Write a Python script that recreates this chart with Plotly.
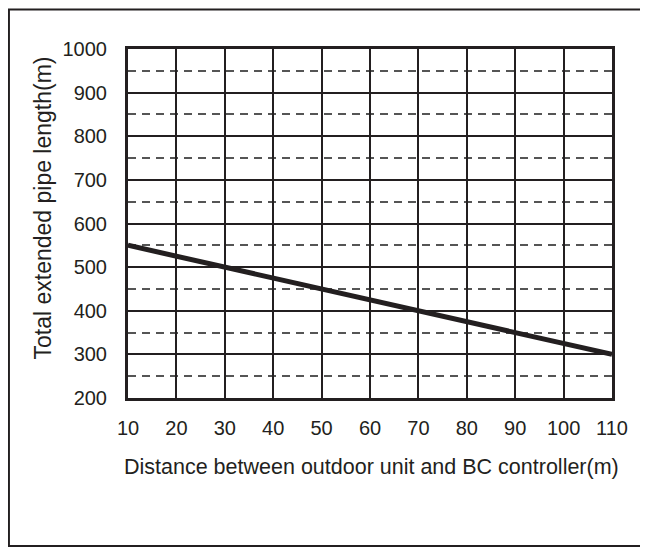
import plotly.graph_objects as go

# Values
distance = [10, 30, 50, 70, 90, 110]
pipe_length = [550, 500, 450, 400, 350, 300]

x_ticks = [10, 20, 30, 40, 50, 60, 70, 80, 90, 100, 110]
y_ticks = [200, 300, 400, 500, 600, 700, 800, 900, 1000]

ink = '#231f20'
font_name = 'Liberation Sans, Arial, sans-serif'

fig = go.Figure()

fig.add_trace(go.Scatter(
    x=distance,
    y=pipe_length,
    mode='lines',
    line=dict(color=ink, width=5),
    showlegend=False,
    hoverinfo='skip'
))

grid_common = dict(
    showgrid=True,
    gridcolor=ink,
    gridwidth=2,
    showline=True,
    linecolor=ink,
    linewidth=3,
    mirror=True,
    zeroline=False,
    ticks='',
    tickfont=dict(family=font_name, size=20, color=ink),
)

# the page body adds an 8px margin, so the figure is 8px smaller than the window
fig.update_layout(
    width=640,
    height=539,
    margin=dict(l=120, r=36, t=41, b=149),
    paper_bgcolor='white',
    plot_bgcolor='white',
    xaxis=dict(
        range=[10, 110],
        tickvals=x_ticks,
        ticklabelstandoff=10,
        **grid_common
    ),
    yaxis=dict(
        range=[200, 1000],
        tickvals=y_ticks,
        ticklabelstandoff=14,
        minor=dict(dtick=50, showgrid=True, gridcolor='#555555',
                   gridwidth=1.5, griddash='8px,6px'),
        **grid_common
    ),
)

# axis titles
fig.add_annotation(
    text='Distance between outdoor unit and BC controller(m)',
    xref='paper', yref='paper', x=0.504, y=-0.198,
    xanchor='center', yanchor='middle', showarrow=False,
    font=dict(family=font_name, size=21.5, color=ink)
)
fig.add_annotation(
    text='Total extended pipe length(m)',
    xref='paper', yref='paper', x=-0.1756, y=0.543,
    xanchor='center', yanchor='middle', textangle=-90, showarrow=False,
    font=dict(family=font_name, size=23, color=ink)
)

# outer frame around the whole figure
fig.add_shape(
    type='rect', xref='paper', yref='paper',
    x0=-0.246, x1=1.1, y0=-0.424, y1=1.113,
    line=dict(color=ink, width=2), layer='below'
)

fig.write_html("out.html")
